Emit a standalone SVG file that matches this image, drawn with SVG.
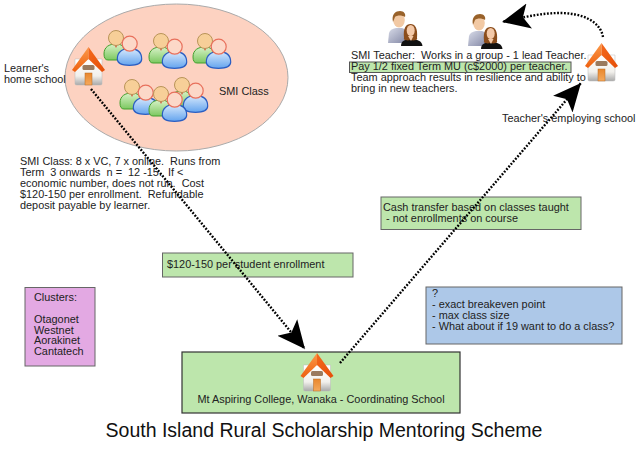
<svg xmlns="http://www.w3.org/2000/svg" width="640" height="452" viewBox="0 0 640 452">
<style>
text{font-family:"Liberation Sans",Arial,sans-serif;font-size:10.9px;fill:#222;white-space:pre}
.box{stroke:#666;stroke-width:1}
.green{fill:#bde6ac}
.link{fill:none;stroke:#000;stroke-width:2.4;stroke-dasharray:1.8 1.6}
</style>
<defs>
<marker id="arrow" markerUnits="userSpaceOnUse" markerWidth="30" markerHeight="30" refX="26" refY="13" orient="auto" viewBox="0 0 28 26">
<path d="M0,1 L26,13 L0,25 L6,13 Z" fill="#000"/>
</marker>
<linearGradient id="wall" x1="0" y1="0" x2="0" y2="1"><stop offset="0" stop-color="#fff"/><stop offset="0.65" stop-color="#f2f0ec"/><stop offset="1" stop-color="#a9a9a9"/></linearGradient>
<linearGradient id="roofL" x1="0" y1="0" x2="0" y2="1"><stop offset="0" stop-color="#fb9a4a"/><stop offset="1" stop-color="#ee5f0e"/></linearGradient>
<linearGradient id="roofR" x1="0" y1="0" x2="1" y2="1"><stop offset="0" stop-color="#f4691c"/><stop offset="1" stop-color="#e54e08"/></linearGradient>
<linearGradient id="door" x1="0" y1="0" x2="0" y2="1"><stop offset="0" stop-color="#e8872e"/><stop offset="1" stop-color="#f5a95c"/></linearGradient>
<linearGradient id="gbody" x1="0" y1="0" x2="0" y2="1"><stop offset="0" stop-color="#d8f2c8"/><stop offset="1" stop-color="#7cc860"/></linearGradient>
<linearGradient id="bbody" x1="0" y1="0" x2="0" y2="1"><stop offset="0" stop-color="#d6e8fc"/><stop offset="1" stop-color="#64a4ee"/></linearGradient>
<linearGradient id="shirt" x1="0" y1="0" x2="1" y2="1"><stop offset="0" stop-color="#d8dbe8"/><stop offset="1" stop-color="#8287a5"/></linearGradient>
<g id="house">
<path d="M3,12 H30 V37 Q30,38 28,38 H5 Q3,38 3,37 Z" fill="url(#wall)" stroke="#bbb" stroke-width="0.5"/>
<path d="M16.500,0 L0,23 L3,25 L16.500,12 Z" fill="url(#roofL)"/>
<path d="M16.500,0 L33,23 L30,25 L16.500,12 Z" fill="url(#roofR)"/>
<rect x="10.500" y="18" width="12" height="5" rx="1.500" fill="#9a7a5e"/>
<rect x="13" y="26" width="7" height="12" fill="url(#door)" stroke="#b86a20" stroke-width="0.5"/>
</g>
<g id="learners">
<path d="M-12,16 C-12,9 -7,6 0,6 C6,6 8,9 8,12 L8,22 L-8,22 Q-12,22 -12,16 Z" fill="url(#gbody)" stroke="#43a02e" stroke-width="1"/>
<path d="M-1.500,6 H1.500 L0,10 Z" fill="#d92c1c"/>
<circle cx="0" cy="0" r="7.500" fill="#f7cf98" stroke="#b99458" stroke-width="1"/>
<path d="M1.300,21 C1.300,14 6,10.700 13.700,10.700 C21,10.700 25.700,14 25.700,21 C25.700,25 22,27.300 13.500,27.300 C5,27.300 1.300,25 1.300,21 Z" fill="url(#bbody)" stroke="#2a5dc2" stroke-width="1.200"/>
<circle cx="13.700" cy="5.700" r="7.500" fill="#fcd8c8" stroke="#e8705c" stroke-width="1.200"/>
</g>
<g id="teachers">
<path d="M-11,23 L-10,13 Q-9,9 -3,8 L3,8 Q7,9 8,13 L6,23 Z" fill="url(#shirt)"/>
<ellipse cx="0" cy="0" rx="5.800" ry="7.500" fill="#f2c9a4"/>
<path d="M-6,2 C-8,-6 -3,-9 1,-9 C5,-9 7,-6 6,-3 C3,-5 -2,-5 -4,-3 Z" fill="#99622a"/>
<path d="M2,26 C2,21 6,19 12,19 C18,19 23,21 23.500,26 Z" fill="#111"/>
<path d="M5,18 C4,8 7,4 11.500,4 C16,4 19,8 18,18 C19,20 15,21 11.500,20 C8,21 4,20 5,18 Z" fill="#8b4d1c"/>
<ellipse cx="11.700" cy="10.500" rx="4" ry="5.500" fill="#f4c9a8"/>
<path d="M9,16 H14.500 L12,21 Z" fill="#f4c9a8"/>
</g>
</defs>
<rect width="640" height="452" fill="#fff"/>
<g id="smi-class">
<ellipse cx="176.500" cy="77.500" rx="111.500" ry="73.500" fill="#fdd2c1" stroke="#aaa" stroke-width="1"/>
<use href="#learners" x="116" y="38"/>
<use href="#learners" x="161" y="41"/>
<use href="#learners" x="205" y="41"/>
<use href="#learners" x="132" y="87"/>
<use href="#learners" x="182" y="85"/>
<use href="#learners" x="161" y="94"/>
<text x="219" y="95">SMI Class</text>
</g>
<g id="learner-school">
<use href="#house" x="72" y="47"/>
<text x="4" y="72">Learner's</text>
<text x="4" y="83">home school</text>
</g>
<g id="smi-class-note">
<text x="20" y="165">SMI Class: 8 x VC, 7 x online.  Runs from</text>
<text x="20" y="176">Term  3 onwards  n =  12 -15.  If &lt;</text>
<text x="20" y="187">economic number, does not run.  Cost</text>
<text x="20" y="198">$120-150 per enrollment.  Refundable</text>
<text x="20" y="209">deposit payable by learner.</text>
</g>
<g id="teachers-1"><use href="#teachers" x="399" y="20"/></g>
<g id="teachers-2"><use href="#teachers" x="479" y="23"/></g>
<g id="smi-teacher-note">
<rect x="349.500" y="62" width="221.500" height="10.500" class="green" stroke="#555" stroke-width="1"/>
<text x="351" y="59">SMI Teacher:  Works in a group - 1 lead Teacher.</text>
<text x="351" y="70">Pay 1/2 fixed Term MU (c$2000) per teacher.</text>
<text x="351" y="81">Team approach results in resilience and ability to</text>
<text x="351" y="92">bring in new teachers.</text>
</g>
<g id="teacher-school">
<use href="#house" x="585" y="43"/>
<text x="502" y="122">Teacher's employing school</text>
</g>
<g id="fee-box">
<rect x="162.500" y="253" width="190.500" height="24" class="box green"/>
<text x="167" y="268">$120-150 per student enrollment</text>
</g>
<g id="cash-box">
<rect x="381" y="197" width="200" height="32.500" class="box green"/>
<text x="383" y="211">Cash transfer based on classes taught</text>
<text x="383" y="222"> - not enrollments on course</text>
</g>
<g id="questions-box">
<rect x="426" y="287" width="196" height="57" class="box" fill="#adc8e8"/>
<text x="432" y="297">?</text>
<text x="432" y="308">- exact breakeven point</text>
<text x="432" y="319">- max class size</text>
<text x="432" y="330">- What about if 19 want to do a class?</text>
</g>
<g id="clusters-box">
<rect x="25" y="287.500" width="70" height="78.500" class="box" fill="#e3a9e3"/>
<text x="34" y="301">Clusters:</text>
<text x="34" y="323">Otagonet</text>
<text x="34" y="333.500">Westnet</text>
<text x="34" y="344">Aorakinet</text>
<text x="34" y="354.500">Cantatech</text>
</g>
<g id="coordinating-school">
<rect x="182" y="352" width="278" height="61" class="green" stroke="#333" stroke-width="1.200"/>
<use href="#house" x="300.500" y="353"/>
<text x="321" y="403" text-anchor="middle">Mt Aspiring College, Wanaka - Coordinating School</text>
</g>
<g id="title">
<text x="324" y="437" text-anchor="middle" style="font-size:19.500px;fill:#111">South Island Rural Scholarship Mentoring Scheme</text>
</g>
<g id="connectors">
<path class="link" d="M91,89 L305,349" marker-end="url(#arrow)"/>
<path class="link" d="M340,363 L581,83" marker-end="url(#arrow)"/>
<path class="link" d="M603,37 C600,20 580,13 560,13 C540,13 520,18 502,22" marker-end="url(#arrow)"/>
</g>
</svg>
